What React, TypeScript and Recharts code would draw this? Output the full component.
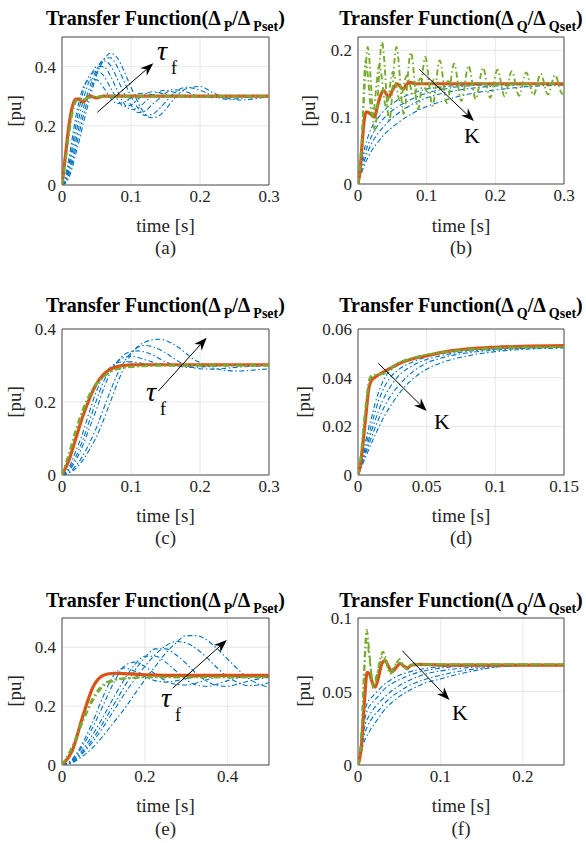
import { LineChart, Line, XAxis, YAxis, CartesianGrid, ReferenceArea, ReferenceLine } from "recharts";

const BLUE = "#0072BD";
const GREEN = "#77AC30";
const ORANGE = "#D95319";
const FONT = "'Liberation Serif', 'Times New Roman', Times, serif";

// ---------- (a) P loop, tau_f sweep ----------
const aTime = [0, 0.005, 0.01, 0.015, 0.02, 0.025, 0.03, 0.04, 0.05, 0.06, 0.07, 0.08, 0.09, 0.1, 0.11, 0.12, 0.13, 0.14, 0.15, 0.16, 0.18, 0.2, 0.22, 0.24, 0.26, 0.28, 0.3];
const aBlue = [
  [0, 0.03, 0.09, 0.16, 0.23, 0.285, 0.325, 0.355, 0.355, 0.33, 0.295, 0.275, 0.28, 0.295, 0.308, 0.31, 0.305, 0.3, 0.298, 0.298, 0.3, 0.3, 0.3, 0.3, 0.3, 0.3, 0.3],
  [0, 0.02, 0.07, 0.13, 0.2, 0.26, 0.31, 0.37, 0.385, 0.37, 0.33, 0.29, 0.265, 0.27, 0.29, 0.305, 0.315, 0.313, 0.305, 0.3, 0.298, 0.3, 0.3, 0.3, 0.3, 0.3, 0.3],
  [0, 0.015, 0.055, 0.11, 0.17, 0.23, 0.28, 0.355, 0.4, 0.4, 0.37, 0.32, 0.275, 0.255, 0.26, 0.28, 0.3, 0.315, 0.32, 0.315, 0.3, 0.297, 0.3, 0.3, 0.3, 0.3, 0.3],
  [0, 0.01, 0.045, 0.09, 0.145, 0.2, 0.25, 0.33, 0.39, 0.42, 0.405, 0.36, 0.31, 0.27, 0.245, 0.25, 0.27, 0.29, 0.31, 0.322, 0.315, 0.298, 0.295, 0.3, 0.3, 0.3, 0.3],
  [0, 0.008, 0.035, 0.075, 0.125, 0.175, 0.225, 0.31, 0.38, 0.425, 0.43, 0.4, 0.35, 0.3, 0.26, 0.235, 0.238, 0.255, 0.28, 0.305, 0.33, 0.32, 0.3, 0.29, 0.293, 0.3, 0.3],
  [0, 0.006, 0.025, 0.06, 0.105, 0.15, 0.2, 0.29, 0.37, 0.42, 0.445, 0.43, 0.385, 0.33, 0.28, 0.24, 0.227, 0.233, 0.255, 0.285, 0.325, 0.333, 0.31, 0.293, 0.287, 0.292, 0.298],
];
const aGreen = [
  [0, 0.085, 0.18, 0.25, 0.285, 0.29, 0.285, 0.298, 0.297, 0.3, 0.3, 0.3, 0.3, 0.3, 0.3, 0.3, 0.3, 0.3, 0.3, 0.3, 0.3, 0.3, 0.3, 0.3, 0.3, 0.3, 0.3],
  [0, 0.075, 0.165, 0.24, 0.28, 0.29, 0.287, 0.297, 0.299, 0.3, 0.3, 0.3, 0.3, 0.3, 0.3, 0.3, 0.3, 0.3, 0.3, 0.3, 0.3, 0.3, 0.3, 0.3, 0.3, 0.3, 0.3],
];
const aOrange = [0, 0.1, 0.2, 0.265, 0.29, 0.29, 0.28, 0.3, 0.294, 0.3, 0.3, 0.3, 0.3, 0.3, 0.3, 0.3, 0.3, 0.3, 0.3, 0.3, 0.3, 0.3, 0.3, 0.3, 0.3, 0.3, 0.3];

// ---------- (b) Q loop, K sweep ----------
const bTime = [0, 0.005, 0.01, 0.015, 0.02, 0.03, 0.04, 0.05, 0.06, 0.08, 0.1, 0.12, 0.15, 0.18, 0.21, 0.25, 0.3];
const bBlue = [
  [0, 0.03, 0.055, 0.072, 0.085, 0.1, 0.112, 0.12, 0.127, 0.136, 0.142, 0.145, 0.148, 0.149, 0.15, 0.15, 0.15],
  [0, 0.025, 0.045, 0.06, 0.072, 0.089, 0.101, 0.11, 0.117, 0.128, 0.136, 0.141, 0.146, 0.148, 0.149, 0.15, 0.15],
  [0, 0.02, 0.037, 0.05, 0.061, 0.077, 0.089, 0.099, 0.107, 0.12, 0.129, 0.135, 0.141, 0.145, 0.147, 0.149, 0.15],
  [0, 0.016, 0.03, 0.041, 0.05, 0.064, 0.076, 0.085, 0.093, 0.106, 0.116, 0.123, 0.132, 0.138, 0.142, 0.146, 0.148],
];
const bGreen1Time = [0, 0.005, 0.01, 0.014, 0.0245, 0.035, 0.0455, 0.056, 0.0665, 0.077, 0.0875, 0.098, 0.1085, 0.119, 0.1295, 0.14, 0.1505, 0.161, 0.1715, 0.182, 0.1925, 0.203, 0.2135, 0.224, 0.2345, 0.245, 0.2555, 0.266, 0.2765, 0.287, 0.2975, 0.3];
const bGreen1 = [0, 0.06, 0.15, 0.205, 0.08, 0.212, 0.095, 0.205, 0.105, 0.197, 0.112, 0.19, 0.117, 0.185, 0.121, 0.18, 0.124, 0.177, 0.127, 0.174, 0.129, 0.171, 0.131, 0.169, 0.132, 0.167, 0.133, 0.165, 0.134, 0.163, 0.135, 0.14];
const bGreen2Time = [0, 0.005, 0.011, 0.021, 0.031, 0.041, 0.051, 0.061, 0.071, 0.081, 0.091, 0.101, 0.111, 0.121, 0.131, 0.141, 0.151, 0.161, 0.171, 0.19, 0.3];
const bGreen2 = [0, 0.05, 0.185, 0.1, 0.178, 0.115, 0.168, 0.125, 0.162, 0.133, 0.158, 0.138, 0.156, 0.142, 0.154, 0.145, 0.152, 0.147, 0.151, 0.149, 0.15];
const bOrangeTime = [0, 0.003, 0.006, 0.009, 0.012, 0.018, 0.024, 0.028, 0.032, 0.037, 0.041, 0.045, 0.05, 0.057, 0.062, 0.066, 0.07, 0.075, 0.085, 0.1, 0.3];
const bOrange = [0, 0.02, 0.06, 0.095, 0.108, 0.105, 0.1, 0.115, 0.13, 0.14, 0.135, 0.13, 0.14, 0.15, 0.145, 0.142, 0.148, 0.152, 0.15, 0.15, 0.15];

// ---------- (c) ----------
const cTime = [0, 0.01, 0.02, 0.03, 0.04, 0.05, 0.06, 0.07, 0.08, 0.09, 0.1, 0.11, 0.12, 0.13, 0.14, 0.15, 0.16, 0.17, 0.18, 0.19, 0.2, 0.22, 0.24, 0.26, 0.28, 0.3];
const cBlue = [
  [0, 0.02, 0.065, 0.115, 0.175, 0.23, 0.27, 0.295, 0.307, 0.31, 0.31, 0.308, 0.305, 0.302, 0.3, 0.3, 0.3, 0.3, 0.3, 0.3, 0.3, 0.3, 0.3, 0.3, 0.3, 0.3],
  [0, 0.015, 0.05, 0.095, 0.15, 0.205, 0.255, 0.29, 0.31, 0.322, 0.325, 0.322, 0.316, 0.31, 0.305, 0.302, 0.3, 0.299, 0.299, 0.3, 0.3, 0.3, 0.3, 0.3, 0.3, 0.3],
  [0, 0.012, 0.04, 0.08, 0.13, 0.18, 0.235, 0.28, 0.31, 0.33, 0.338, 0.34, 0.337, 0.33, 0.32, 0.31, 0.303, 0.298, 0.295, 0.295, 0.296, 0.298, 0.3, 0.3, 0.3, 0.3],
  [0, 0.007, 0.025, 0.052, 0.088, 0.13, 0.18, 0.23, 0.275, 0.31, 0.335, 0.35, 0.355, 0.352, 0.345, 0.335, 0.322, 0.31, 0.3, 0.294, 0.291, 0.29, 0.293, 0.296, 0.298, 0.3],
  [0, 0.005, 0.018, 0.04, 0.07, 0.105, 0.15, 0.2, 0.25, 0.295, 0.33, 0.352, 0.364, 0.37, 0.372, 0.369, 0.36, 0.348, 0.333, 0.318, 0.308, 0.293, 0.286, 0.285, 0.288, 0.291],
];
const cGreen = [
  [0, 0.06, 0.125, 0.18, 0.222, 0.252, 0.27, 0.283, 0.29, 0.294, 0.296, 0.297, 0.298, 0.299, 0.3, 0.3, 0.3, 0.3, 0.3, 0.3, 0.3, 0.3, 0.3, 0.3, 0.3, 0.3],
  [0, 0.055, 0.118, 0.172, 0.216, 0.248, 0.268, 0.282, 0.29, 0.294, 0.296, 0.298, 0.299, 0.3, 0.3, 0.3, 0.3, 0.3, 0.3, 0.3, 0.3, 0.3, 0.3, 0.3, 0.3, 0.3],
];
const cOrange = [0, 0.04, 0.1, 0.16, 0.21, 0.25, 0.275, 0.29, 0.297, 0.3, 0.302, 0.302, 0.302, 0.302, 0.302, 0.302, 0.302, 0.302, 0.302, 0.302, 0.302, 0.302, 0.302, 0.302, 0.302, 0.302];

// ---------- (d) ----------
const dTime = [0, 0.002, 0.004, 0.006, 0.008, 0.01, 0.0125, 0.015, 0.02, 0.025, 0.03, 0.04, 0.05, 0.06, 0.08, 0.1, 0.12, 0.15];
const dBlue = [
  [0, 0.005, 0.01, 0.015, 0.02, 0.024, 0.0295, 0.034, 0.0405, 0.0435, 0.0455, 0.0478, 0.0493, 0.0503, 0.0515, 0.0522, 0.0526, 0.0528],
  [0, 0.0042, 0.0085, 0.0128, 0.017, 0.021, 0.026, 0.0305, 0.037, 0.041, 0.0435, 0.0465, 0.0485, 0.0498, 0.0512, 0.052, 0.0525, 0.0527],
  [0, 0.0036, 0.0073, 0.011, 0.0147, 0.0183, 0.0225, 0.0265, 0.033, 0.0375, 0.041, 0.045, 0.0475, 0.049, 0.0508, 0.0517, 0.0522, 0.0526],
  [0, 0.0031, 0.0063, 0.0095, 0.0127, 0.0158, 0.0195, 0.023, 0.029, 0.0335, 0.037, 0.0425, 0.046, 0.048, 0.0502, 0.0513, 0.052, 0.0524],
  [0, 0.0026, 0.0053, 0.008, 0.0107, 0.0133, 0.0165, 0.0195, 0.025, 0.0295, 0.0335, 0.0395, 0.0435, 0.046, 0.049, 0.0507, 0.0516, 0.0522],
];
const dGreen = [
  [0, 0.008, 0.02, 0.031, 0.039, 0.041, 0.0412, 0.0413, 0.0418, 0.0445, 0.0462, 0.0482, 0.0495, 0.0504, 0.0516, 0.0522, 0.0525, 0.0527],
  [0, 0.007, 0.018, 0.029, 0.037, 0.0405, 0.041, 0.0412, 0.042, 0.0443, 0.046, 0.048, 0.0494, 0.0503, 0.0515, 0.0521, 0.0524, 0.0526],
];
const dOrange = [0, 0.005, 0.015, 0.026, 0.036, 0.039, 0.0402, 0.0412, 0.0428, 0.0443, 0.0458, 0.0478, 0.049, 0.0503, 0.0518, 0.0525, 0.0529, 0.0532];

// ---------- (e) ----------
const eTime = [0, 0.025, 0.05, 0.075, 0.1, 0.125, 0.15, 0.175, 0.2, 0.225, 0.25, 0.275, 0.3, 0.325, 0.35, 0.375, 0.4, 0.425, 0.45, 0.475, 0.5];
const eBlue = [
  [0, 0.02, 0.075, 0.15, 0.235, 0.305, 0.33, 0.32, 0.3, 0.287, 0.282, 0.286, 0.294, 0.3, 0.303, 0.302, 0.3, 0.3, 0.3, 0.3, 0.3],
  [0, 0.017, 0.065, 0.13, 0.205, 0.28, 0.335, 0.35, 0.335, 0.31, 0.287, 0.274, 0.272, 0.279, 0.29, 0.299, 0.304, 0.304, 0.302, 0.3, 0.3],
  [0, 0.014, 0.052, 0.105, 0.165, 0.23, 0.29, 0.34, 0.37, 0.37, 0.35, 0.32, 0.29, 0.272, 0.268, 0.275, 0.287, 0.297, 0.302, 0.303, 0.301],
  [0, 0.012, 0.045, 0.09, 0.145, 0.205, 0.265, 0.32, 0.365, 0.395, 0.395, 0.375, 0.345, 0.31, 0.285, 0.27, 0.268, 0.275, 0.285, 0.293, 0.298],
  [0, 0.01, 0.04, 0.08, 0.13, 0.185, 0.24, 0.29, 0.335, 0.375, 0.405, 0.42, 0.415, 0.395, 0.365, 0.33, 0.3, 0.28, 0.27, 0.272, 0.28],
  [0, 0.008, 0.03, 0.06, 0.1, 0.145, 0.19, 0.24, 0.29, 0.335, 0.38, 0.415, 0.44, 0.44, 0.425, 0.395, 0.36, 0.325, 0.295, 0.275, 0.265],
];
const eGreen = [
  [0, 0.065, 0.155, 0.23, 0.275, 0.29, 0.295, 0.297, 0.298, 0.298, 0.298, 0.298, 0.298, 0.298, 0.298, 0.298, 0.298, 0.298, 0.298, 0.298, 0.298],
  [0, 0.06, 0.145, 0.22, 0.268, 0.287, 0.294, 0.297, 0.298, 0.298, 0.298, 0.298, 0.298, 0.298, 0.298, 0.298, 0.298, 0.298, 0.298, 0.298, 0.298],
];
const eOrange = [0, 0.05, 0.165, 0.265, 0.305, 0.312, 0.311, 0.309, 0.307, 0.306, 0.305, 0.305, 0.305, 0.305, 0.305, 0.305, 0.305, 0.305, 0.305, 0.305, 0.305];

// ---------- (f) ----------
const fTime = [0, 0.003, 0.006, 0.009, 0.012, 0.015, 0.02, 0.025, 0.03, 0.04, 0.05, 0.06, 0.07, 0.08, 0.1, 0.12, 0.14, 0.16, 0.18, 0.2, 0.25];
const fBlue = [
  [0, 0.012, 0.028, 0.038, 0.043, 0.045, 0.048, 0.051, 0.054, 0.058, 0.061, 0.063, 0.0645, 0.0655, 0.0668, 0.0675, 0.0678, 0.068, 0.068, 0.068, 0.068],
  [0, 0.011, 0.025, 0.033, 0.038, 0.041, 0.044, 0.047, 0.0505, 0.055, 0.058, 0.0605, 0.0625, 0.064, 0.0658, 0.067, 0.0675, 0.0678, 0.068, 0.068, 0.068],
  [0, 0.009, 0.02, 0.028, 0.032, 0.035, 0.039, 0.042, 0.045, 0.05, 0.054, 0.057, 0.0595, 0.0615, 0.064, 0.0655, 0.0665, 0.0672, 0.0676, 0.0678, 0.068],
  [0, 0.0075, 0.016, 0.023, 0.027, 0.03, 0.034, 0.037, 0.0405, 0.046, 0.05, 0.0535, 0.056, 0.058, 0.061, 0.0635, 0.0652, 0.0665, 0.0672, 0.0676, 0.068],
  [0, 0.006, 0.013, 0.018, 0.021, 0.024, 0.028, 0.032, 0.036, 0.042, 0.0465, 0.05, 0.053, 0.0555, 0.0585, 0.0615, 0.064, 0.066, 0.0673, 0.0678, 0.068],
];
const fGreen1Time = [0, 0.004, 0.007, 0.0105, 0.014, 0.0185, 0.022, 0.026, 0.0305, 0.034, 0.0385, 0.043, 0.0465, 0.0505, 0.055, 0.0595, 0.064, 0.0685, 0.075, 0.09, 0.25];
const fGreen1 = [0, 0.02, 0.06, 0.092, 0.075, 0.052, 0.058, 0.07, 0.077, 0.072, 0.062, 0.064, 0.069, 0.072, 0.068, 0.065, 0.067, 0.069, 0.068, 0.0685, 0.0685];
const fGreen2Time = [0, 0.004, 0.007, 0.0105, 0.014, 0.0185, 0.022, 0.026, 0.03, 0.034, 0.038, 0.043, 0.048, 0.052, 0.057, 0.062, 0.07, 0.09, 0.25];
const fGreen2 = [0, 0.018, 0.055, 0.086, 0.072, 0.056, 0.06, 0.068, 0.074, 0.07, 0.064, 0.066, 0.07, 0.069, 0.066, 0.0675, 0.0685, 0.0685, 0.0685];
const fOrangeTime = [0, 0.004, 0.008, 0.011, 0.014, 0.018, 0.021, 0.025, 0.029, 0.033, 0.037, 0.041, 0.046, 0.051, 0.056, 0.06, 0.065, 0.075, 0.1, 0.25];
const fOrange = [0, 0.012, 0.045, 0.063, 0.062, 0.055, 0.053, 0.06, 0.069, 0.071, 0.067, 0.0635, 0.066, 0.069, 0.067, 0.066, 0.068, 0.0685, 0.068, 0.068];

type Pt = { t: number; v: number };
const pts = (ts: number[], vs: number[]): Pt[] => ts.map((t, i) => ({ t, v: vs[i] }));

function Arrow(props: any) {
  const { x1, y1, x2, y2 } = props;
  const a = Math.atan2(y2 - y1, x2 - x1);
  const c = Math.cos(a), s = Math.sin(a);
  const len = 13, half = 5, notch = 9;
  const bx = x2 - len * c, by = y2 - len * s;
  const nx = x2 - notch * c, ny = y2 - notch * s;
  const p = `${x2},${y2} ${bx - half * s},${by + half * c} ${nx},${ny} ${bx + half * s},${by - half * c}`;
  return (
    <g>
      <line x1={x1} y1={y1} x2={nx} y2={ny} stroke="#000" strokeWidth={1} />
      <polygon points={p} fill="#000" />
    </g>
  );
}

type PanelProps = {
  left: number; top: number; w: number; h: number;
  xDomain: [number, number]; yDomain: [number, number];
  xTicks: number[]; yTicks: number[];
  blue: Pt[][]; green: Pt[][]; orange: Pt[];
  arrow: [number, number, number, number];
};

const tickStyle = { fontFamily: FONT, fontSize: 17, fill: "#262626" };

function Panel(p: PanelProps) {
  return (
    <div style={{ position: "absolute", left: p.left - 50, top: p.top - 10 }}>
      <LineChart width={p.w + 75} height={p.h + 40} margin={{ top: 10, right: 25, bottom: 0, left: 0 }}>
        <CartesianGrid stroke="#e2e2e2" strokeWidth={0.8} />
        <XAxis type="number" dataKey="t" domain={p.xDomain} ticks={p.xTicks} interval={0} allowDataOverflow
          axisLine={false} tickLine={false} tickSize={0} tickMargin={5} height={30} tick={tickStyle} />
        <YAxis type="number" dataKey="v" domain={p.yDomain} ticks={p.yTicks} interval={0} allowDataOverflow
          axisLine={false} tickLine={false} tickSize={0} tickMargin={6} width={50} tick={tickStyle} />
        {p.blue.map((d, i) => (
          <Line key={"b" + i} data={d} dataKey="v" type="monotone" stroke={BLUE} strokeWidth={1.1}
            strokeDasharray="5 2.5 1.5 2.5" dot={false} activeDot={false} isAnimationActive={false} />
        ))}
        <Line data={p.orange} dataKey="v" type="monotone" stroke={ORANGE} strokeWidth={3.2}
          dot={false} activeDot={false} isAnimationActive={false} />
        {p.green.map((d, i) => (
          <Line key={"g" + i} data={d} dataKey="v" type="monotone" stroke={GREEN} strokeWidth={1.9}
            strokeDasharray="6 3 1.5 3" dot={false} activeDot={false} isAnimationActive={false} />
        ))}
        <ReferenceArea x1={p.xDomain[0]} x2={p.xDomain[1]} y1={p.yDomain[0]} y2={p.yDomain[1]}
          fill="none" fillOpacity={0} stroke="#262626" strokeWidth={0.8} />
        <ReferenceLine segment={[{ x: p.arrow[0], y: p.arrow[1] }, { x: p.arrow[2], y: p.arrow[3] }]}
          stroke="#000" shape={Arrow} />
      </LineChart>
    </div>
  );
}

const textBase: any = { position: "absolute", fontFamily: FONT, lineHeight: 1, whiteSpace: "nowrap", color: "#000" };

function Title({ cx, top, q }: { cx: number; top: number; q: boolean }) {
  const sub: any = { fontSize: 14, position: "relative", top: 6, marginLeft: 3 };
  const k = q ? "Q" : "P";
  return (
    <div style={{ ...textBase, left: cx, top, transform: "translateX(-50%)", fontWeight: "bold", fontSize: 20 }}>
      Transfer Function(Δ<span style={sub}>{k}</span>/Δ<span style={sub}>{k}set</span>)
    </div>
  );
}

function Centered({ cx, top, text, size = 19 }: { cx: number; top: number; text: string; size?: number }) {
  return <div style={{ ...textBase, left: cx, top, transform: "translateX(-50%)", fontSize: size, color: "#262626" }}>{text}</div>;
}

function YLabel({ cx, cy }: { cx: number; cy: number }) {
  return (
    <div style={{ ...textBase, left: cx, top: cy, fontSize: 19, color: "#262626", transform: "translate(-50%, -50%) rotate(-90deg)" }}>
      [pu]
    </div>
  );
}

function Tau({ left, top }: { left: number; top: number }) {
  return (
    <>
      <div style={{ ...textBase, left, top, fontSize: 28, fontStyle: "italic" }}>τ</div>
      <div style={{ ...textBase, left: left + 14, top: top + 22, fontSize: 18 }}>f</div>
    </>
  );
}

function K({ left, top }: { left: number; top: number }) {
  return <div style={{ ...textBase, left, top, fontSize: 22 }}>K</div>;
}

export default function App() {
  const L = 62, R = 358, WL = 207, WR = 206;
  return (
    <div style={{ position: "absolute", left: 0, top: 0, width: 586, height: 843, background: "#fff", overflow: "hidden" }}>
      <Panel left={L} top={37} w={WL} h={148} xDomain={[0, 0.3]} yDomain={[0, 0.5]} xTicks={[0, 0.1, 0.2, 0.3]} yTicks={[0, 0.2, 0.4]}
        blue={aBlue.map((v) => pts(aTime, v))} green={aGreen.map((v) => pts(aTime, v))} orange={pts(aTime, aOrange)}
        arrow={[0.0512, 0.2456, 0.1323, 0.411]} />
      <Panel left={R} top={37} w={WR} h={147} xDomain={[0, 0.3]} yDomain={[0, 0.22]} xTicks={[0, 0.1, 0.2, 0.3]} yTicks={[0, 0.1, 0.2]}
        blue={bBlue.map((v) => pts(bTime, v))} green={[pts(bGreen1Time, bGreen1), pts(bGreen2Time, bGreen2)]} orange={pts(bOrangeTime, bOrange)}
        arrow={[0.0893, 0.1717, 0.1688, 0.0944]} />
      <Panel left={L} top={329} w={WL} h={146} xDomain={[0, 0.3]} yDomain={[0, 0.4]} xTicks={[0, 0.1, 0.2, 0.3]} yTicks={[0, 0.2, 0.4]}
        blue={cBlue.map((v) => pts(cTime, v))} green={cGreen.map((v) => pts(cTime, v))} orange={pts(cTime, cOrange)}
        arrow={[0.1396, 0.23, 0.2097, 0.376]} />
      <Panel left={R} top={329} w={WR} h={146} xDomain={[0, 0.15]} yDomain={[0, 0.06]} xTicks={[0, 0.05, 0.1, 0.15]} yTicks={[0, 0.02, 0.04, 0.06]}
        blue={dBlue.map((v) => pts(dTime, v))} green={dGreen.map((v) => pts(dTime, v))} orange={pts(dTime, dOrange)}
        arrow={[0.0148, 0.0459, 0.05, 0.0263]} />
      <Panel left={L} top={618} w={WL} h={147} xDomain={[0, 0.5]} yDomain={[0, 0.5]} xTicks={[0, 0.2, 0.4]} yTicks={[0, 0.2, 0.4]}
        blue={eBlue.map((v) => pts(eTime, v))} green={eGreen.map((v) => pts(eTime, v))} orange={pts(eTime, eOrange)}
        arrow={[0.2673, 0.261, 0.398, 0.425]} />
      <Panel left={R} top={618} w={WR} h={147} xDomain={[0, 0.25]} yDomain={[0, 0.1]} xTicks={[0, 0.1, 0.2]} yTicks={[0, 0.05, 0.1]}
        blue={fBlue.map((v) => pts(fTime, v))} green={[pts(fGreen1Time, fGreen1), pts(fGreen2Time, fGreen2)]} orange={pts(fOrangeTime, fOrange)}
        arrow={[0.054, 0.0776, 0.111, 0.0442]} />

      <Title cx={L + WL / 2} top={8} q={false} />
      <Title cx={R + WR / 2} top={8} q={true} />
      <Title cx={L + WL / 2} top={295} q={false} />
      <Title cx={R + WR / 2} top={295} q={true} />
      <Title cx={L + WL / 2} top={590} q={false} />
      <Title cx={R + WR / 2} top={590} q={true} />

      <YLabel cx={14} cy={111} />
      <YLabel cx={308} cy={111} />
      <YLabel cx={14} cy={402} />
      <YLabel cx={303} cy={402} />
      <YLabel cx={14} cy={691} />
      <YLabel cx={303} cy={691} />

      <Centered cx={L + WL / 2} top={216} text="time [s]" />
      <Centered cx={R + WR / 2} top={216} text="time [s]" />
      <Centered cx={L + WL / 2} top={238} text="(a)" />
      <Centered cx={R + WR / 2} top={238} text="(b)" />
      <Centered cx={L + WL / 2} top={506} text="time [s]" />
      <Centered cx={R + WR / 2} top={506} text="time [s]" />
      <Centered cx={L + WL / 2} top={528} text="(c)" />
      <Centered cx={R + WR / 2} top={528} text="(d)" />
      <Centered cx={L + WL / 2} top={796} text="time [s]" />
      <Centered cx={R + WR / 2} top={796} text="time [s]" />
      <Centered cx={L + WL / 2} top={819} text="(e)" />
      <Centered cx={R + WR / 2} top={819} text="(f)" />

      <Tau left={157} top={37} />
      <Tau left={146} top={378} />
      <Tau left={161} top={684} />
      <K left={464} top={125} />
      <K left={434} top={411} />
      <K left={452} top={702} />
    </div>
  );
}
